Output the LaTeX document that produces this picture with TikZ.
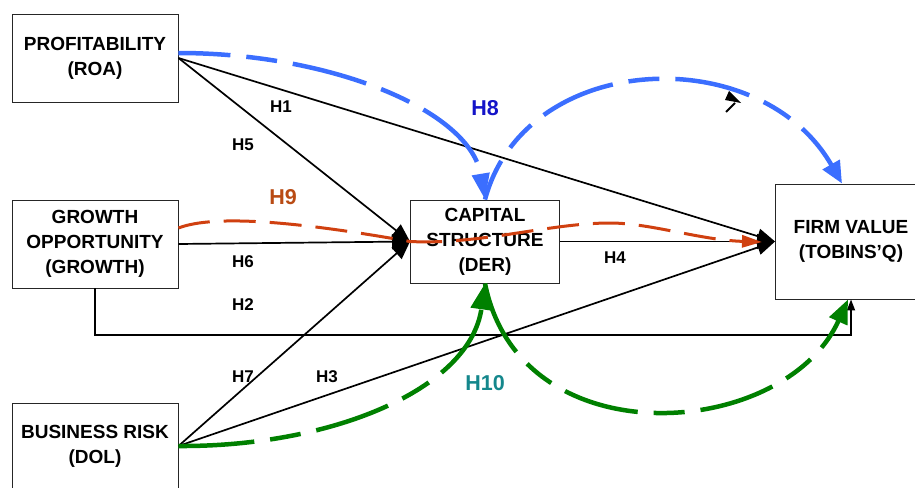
\documentclass[tikz,border=0pt]{standalone}
\usepackage{fontspec}
\setmainfont{Liberation Sans}
\usetikzlibrary{arrows.meta}

\definecolor{pathblue}{RGB}{59,110,255}
\definecolor{pathred}{RGB}{208,64,16}
\definecolor{pathgreen}{RGB}{0,128,0}
\definecolor{labelblue}{RGB}{20,20,200}
\definecolor{labelred}{RGB}{185,75,20}
\definecolor{labelteal}{RGB}{20,135,140}

\begin{document}
\begin{tikzpicture}[x=1pt,y=-1pt,
  varbox/.style={draw=black!85, line width=0.9pt, fill=white, align=center,
    font=\fontsize{19}{25}\selectfont\bfseries, inner sep=0pt},
  effect/.style={line width=1.7pt, -{Triangle[length=18pt,width=15pt]}},
  hlabel/.style={font=\fontsize{17}{19}\selectfont\bfseries, inner sep=0pt},
  biglabel/.style={font=\fontsize{21.5}{24}\selectfont\bfseries, inner sep=0pt},
  longshort/.style={dash pattern=on 76pt off 16pt on 31pt off 16pt},
  bluepath/.style={pathblue, line width=4.5pt, longshort},
  greenpath/.style={pathgreen, line width=4.5pt, longshort},
  redpath/.style={pathred, line width=3pt, dash pattern=on 32pt off 14pt},
]
\useasboundingbox (0,0) rectangle (915,487);
\clip (0,0) rectangle (915,487);

% variables
\node[varbox, minimum width=166pt, minimum height=88pt] (roa) at (95,58) {PROFITABILITY\\(ROA)};
\node[varbox, minimum width=166pt, minimum height=88pt] (grow) at (95,244) {GROWTH\\OPPORTUNITY\\(GROWTH)};
\node[varbox, minimum width=166pt, minimum height=86pt] (risk) at (95,446) {BUSINESS RISK\\(DOL)};
\node[varbox, minimum width=149pt, minimum height=83pt] (cs) at (485,241.5) {CAPITAL\\STRUCTURE\\(DER)};
\node[varbox, minimum width=151pt, minimum height=115pt] (fv) at (851,241.5) {FIRM VALUE\\(TOBINS’Q)};

% direct effects
\draw[effect] (roa.east) -- (fv.west);
\draw[effect] (roa.east) -- (cs.west);
\draw[effect] (grow.east) -- (cs.west);
\draw[effect] (risk.east) -- (cs.west);
\draw[effect] (risk.east) -- (fv.west);
\draw[effect] (cs.east) -- (fv.west);
\coordinate (h2turn) at (851,335);
\draw[line width=1.7pt, -{Triangle[length=11pt,width=8pt]}] (grow.south) |- (h2turn) -- (fv.south);

% hypothesis labels
\node[hlabel] (h1) at (281,107) {H1};
\node[hlabel] (h5) at (243,145) {H5};
\node[hlabel] (h6) at (243,262) {H6};
\node[hlabel] (h2) at (243,305) {H2};
\node[hlabel] (h7) at (243,377) {H7};
\node[hlabel] (h3) at (327,377) {H3};
\node[hlabel] (h4) at (615,258) {H4};

% mediation through capital structure: growth
\draw[redpath] ([yshift=16pt]grow.east) .. controls (215,214) and (300,222) .. (cs.west);
\draw[redpath, -{Triangle[length=20pt,width=12pt]}] (cs.west)
  .. controls (480,245) and (550,223) .. (610,223)
  .. controls (650,223) and (700,240) .. (762,242);

% mediation through capital structure: profitability
\draw[bluepath, dash phase=24pt, -{Triangle[length=26pt,width=17pt]}]
  ([yshift=5pt]roa.east) .. controls (330,53) and (470,110) .. (cs.north);
\draw[bluepath, dash phase=34pt, -{Triangle[length=22pt,width=19pt]}]
  (cs.north) .. controls (525,50) and (760,40) .. ([xshift=-9pt]fv.north);

% mediation through capital structure: business risk
\draw[greenpath, -{Triangle[length=26pt,width=21pt]}]
  (risk.east) .. controls (330,447) and (470,390) .. (cs.south);
\draw[greenpath, -{Triangle[length=24pt,width=19pt]}]
  (cs.south) .. controls (520,460) and (785,440) .. ([xshift=-3pt]fv.south);

\node[biglabel, labelblue] (h8) at (485,108) {H8};
\node[biglabel, labelred] (h9) at (283,197) {H9};
\node[biglabel, labelteal] (h10) at (485,383) {H10};

% small black pointer mark above the arc
\fill (729,91) -- (741,103) -- (725,100) -- cycle;
\draw[line width=1.8pt] (726,112) -- (735,103);
\end{tikzpicture}
\end{document}
